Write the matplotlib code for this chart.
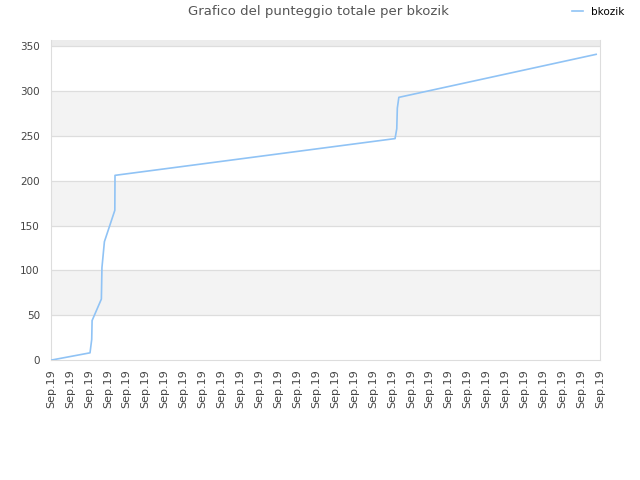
import matplotlib
matplotlib.use("Agg")
import matplotlib.pyplot as plt

# score curve (x in tick-position units, one unit per "Sep.19" label)
pos = [0.04, 2.06, 2.15, 2.17, 2.66, 2.69, 2.82, 3.37, 3.38,
       18.17, 18.26, 18.29, 18.37, 28.79]
score = [0, 8, 23, 44, 68, 103, 132, 167, 206,
         247, 258, 281, 293, 341]
tick_labels = ["Sep.19"] * 30

fig = plt.figure(figsize=(6.4, 4.8), dpi=100)
ax = fig.add_axes([0.0797, 0.25, 0.858, 0.6667])

ymax = 357
# alternating background bands
for i, lo in enumerate(range(0, 400, 50)):
    if i % 2 == 1:
        ax.axhspan(lo, min(lo + 50, ymax), color="#f3f3f3", zorder=0, lw=0)
ax.axhspan(350, ymax, color="#ececec", zorder=0, lw=0)
for y in range(50, 400, 50):
    ax.axhline(y, color="#dddddd", lw=0.9, zorder=1)

ax.plot(pos, score, color="#90c3f5", lw=1.2, zorder=3, label="bkozik")

ax.set_xlim(0, 29)
ax.set_ylim(0, ymax)
ax.set_xticks(range(30))
ax.set_xticklabels(tick_labels, rotation=90, fontsize=8, color="#444444")
ax.set_yticks(range(0, 351, 50))
ax.tick_params(axis="y", labelsize=7.5, colors="#444444", length=0, pad=8)
ax.tick_params(axis="x", length=0, pad=7)
for s in ax.spines.values():
    s.set_color("#dddddd")
ax.spines["top"].set_visible(False)

fig.text(0.497, 0.975, "Grafico del punteggio totale per bkozik",
         ha="center", va="center", fontsize=9.5, color="#555555")
fig.legend(loc="upper right", bbox_to_anchor=(0.99, 1.005), frameon=False,
           fontsize=7.5, handlelength=1.0, handletextpad=0.8)

fig.savefig("out.png", dpi=100)
